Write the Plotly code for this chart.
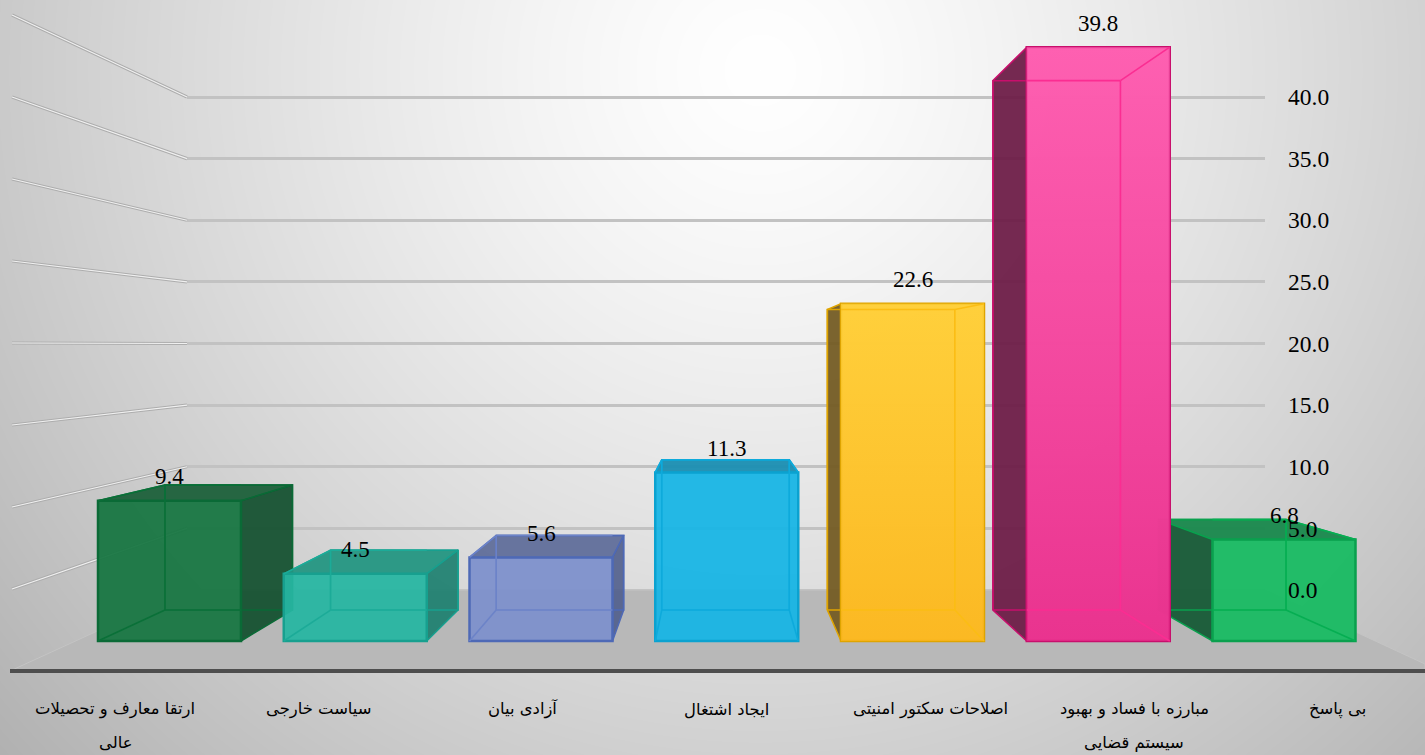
import base64, struct, zlib
import numpy as np
import plotly.graph_objects as go

# ---------- data ----------
category_line1 = ["ارتقا معارف و تحصیلات", "سیاست خارجی", "آزادی بیان", "ایجاد اشتغال",
                  "اصلاحات سکتور امنیتی", "مبارزه با فساد و بهبود", "بی پاسخ"]
category_line2 = ["عالی", "", "", "", "", "سیستم قضایی", ""]
values = [9.4, 4.5, 5.6, 11.3, 22.6, 39.8, 6.8]
value_labels = ["9.4", "4.5", "5.6", "11.3", "22.6", "39.8", "6.8"]
axis_ticks = [0, 5, 10, 15, 20, 25, 30, 35, 40]
axis_tick_labels = ["0.0", "5.0", "10.0", "15.0", "20.0", "25.0", "30.0", "35.0", "40.0"]

# ---------- styles ----------
front_col = ["rgba(24,118,66,.95)", "rgba(38,182,162,.94)", "rgba(125,144,204,.94)", "rgba(22,181,228,.94)",
             "rgba(255,196,46,.94)", "rgba(250,70,160,.94)", "rgba(24,186,98,.95)"]
gloss_col = [None, None, None, None,
             ("rgba(251,182,30,.8)", "rgba(255,210,60,.8)"),
             ("rgba(230,45,138,.8)", "rgba(255,100,180,.8)"),
             None]
edge_col = ["#0a6a36", "#17a08f", "#4e69b6", "#0ba2d0", "#dfa400", "#c80f6c", "#0aa04e"]
inner_col = ["#0a7038", "#1cab98", "#6c83c8", "#0eaadb", "#fbbd14", "#fb2d92", "#06ae52"]
side_col = ["rgba(18,80,46,.93)", "rgba(30,128,112,.93)", "rgba(80,94,140,.9)", "rgba(0,0,0,0)",
            "rgba(116,92,36,.95)", "rgba(110,30,72,.95)", "rgba(22,90,54,.95)"]
top_col = ["rgba(28,96,58,.95)", "rgba(36,150,130,.95)", "rgba(96,110,154,.95)", "rgba(26,142,178,.95)",
           "rgba(0,0,0,0)", "rgba(0,0,0,0)", "rgba(24,136,76,.95)"]
W, H = 1425, 755
FONT_NUM = "Liberation Serif"
FONT_FA = "DejaVu Sans"

# ---------- geometry helpers (pixel layout of the perspective box) ----------
FRONT_ZERO, FRONT_UNIT = 641.0, 14.92   # value scale on the bars' front plane
BACK_ZERO, BACK_UNIT = 590.0, 12.325    # value scale on the back wall
K, XA, YA = 0.8915, 77.6, 38.6          # front plane -> rear-of-bar plane
BAR_W, BAR_X0, BAR_STEP = 143.0, 169.5, 185.75


def front_v(py):
    return (FRONT_ZERO - py) / FRONT_UNIT


def rear_x(x):
    return XA + K * x


def rear_v(v):
    return front_v(YA + K * (FRONT_ZERO - v * FRONT_UNIT))


def wall_px(v):
    return BACK_ZERO - v * BACK_UNIT


def wall_front_px(v):
    return 671.0 - v * 16.4


centers = [BAR_X0 + i * BAR_STEP for i in range(len(values))]
horizon = rear_v(0) / (1 - K)

# ---------- background ----------
yy, xx = np.mgrid[0:H, 0:W]
d = np.sqrt((xx - 760.0) ** 2 + (yy - 70.0) ** 2) / 860
g = np.clip(255 - 62 * d ** 1.3, 0, 255).astype(np.uint8)
raw = b"".join(b"\x00" + g[r].tobytes() for r in range(H))


def chunk(t, b):
    return struct.pack(">I", len(b)) + t + b + struct.pack(">I", zlib.crc32(t + b) & 0xffffffff)


png = b"\x89PNG\r\n\x1a\n" + chunk(b"IHDR", struct.pack(">IIBBBBB", W, H, 8, 0, 0, 0, 0)) + \
    chunk(b"IDAT", zlib.compress(raw, 9)) + chunk(b"IEND", b"")
bg_src = "data:image/png;base64," + base64.b64encode(png).decode()

fig = go.Figure()

# grid subplot (main xy): the dummy trace keeps the axes alive
fig.add_trace(go.Scatter(x=[0, 1], y=[axis_ticks[0], axis_ticks[-1]], xaxis="x", yaxis="y", mode="lines",
                         line=dict(color="rgba(0,0,0,0)"), showlegend=False, hoverinfo="skip"))

# floor
fx = [10, 187, 1265, 1425, 1425, 10]
fy = [671, 590, 590, 664, 671, 671]
fig.add_trace(go.Scatter(x=fx, y=[front_v(p) for p in fy], xaxis="x2", yaxis="y2", mode="lines", fill="toself",
                         fillcolor="#b8b8b8", line=dict(color="#c4c4c4", width=1), showlegend=False, hoverinfo="skip"))

# side-wall grid lines
for t in axis_ticks:
    if t == 0:
        continue
    xs = [12, 187]
    ys = [front_v(wall_front_px(t)), front_v(wall_px(t))]
    fig.add_trace(go.Scatter(x=xs, y=ys, xaxis="x2", yaxis="y2", mode="lines",
                             line=dict(color="#adadad", width=3.2), showlegend=False, hoverinfo="skip"))
    fig.add_trace(go.Scatter(x=xs, y=ys, xaxis="x2", yaxis="y2", mode="lines",
                             line=dict(color="#f0f0f0", width=1.2), showlegend=False, hoverinfo="skip"))

# floor front rule
fig.add_trace(go.Scatter(x=[10, 1425], y=[front_v(671)] * 2, xaxis="x2", yaxis="y2", mode="lines",
                         line=dict(color="#4e4e4e", width=4), showlegend=False, hoverinfo="skip"))

# outer faces of each box
order = [0, 1, 2, 6, 5, 4, 3]
for i in order:
    v = values[i]
    xl, xr = centers[i] - BAR_W / 2, centers[i] + BAR_W / 2
    bl, br = rear_x(xl), rear_x(xr)
    vb, zb = rear_v(v), rear_v(0)
    # top
    if v < horizon:
        fig.add_trace(go.Scatter(x=[xl, bl, br, xr, xl], y=[v, vb, vb, v, v], xaxis="x2", yaxis="y2",
                                 mode="lines", fill="toself", fillcolor=top_col[i],
                                 line=dict(color=edge_col[i], width=1.5), showlegend=False, hoverinfo="skip"))
    # side that sticks out beyond the front rectangle
    if br > xr:
        fig.add_trace(go.Scatter(x=[xr, br, br, xr, xr], y=[v, vb, zb, 0, v], xaxis="x2", yaxis="y2",
                                 mode="lines", fill="toself", fillcolor=side_col[i],
                                 line=dict(color=edge_col[i], width=1.5), showlegend=False, hoverinfo="skip"))
    if bl < xl:
        fig.add_trace(go.Scatter(x=[xl, bl, bl, xl, xl], y=[v, vb, zb, 0, v], xaxis="x2", yaxis="y2",
                                 mode="lines", fill="toself", fillcolor=side_col[i],
                                 line=dict(color=edge_col[i], width=1.5), showlegend=False, hoverinfo="skip"))
    # rear rectangle, seen where it runs outside the front face
    fig.add_trace(go.Scatter(x=[bl, br, br, bl, bl], y=[zb, zb, vb, vb, zb], xaxis="x2", yaxis="y2", mode="lines",
                             line=dict(color=edge_col[i], width=1.5), showlegend=False, hoverinfo="skip"))

# front faces: real bars on an overlay of the same scale
fig.add_trace(go.Bar(x=centers, y=values, width=BAR_W, xaxis="x3", yaxis="y3",
                     marker=dict(color=front_col, line=dict(color=edge_col, width=2.5)),
                     showlegend=False, hoverinfo="skip"))

# gloss and inner (see-through) edges on top of the bars
for i in order:
    v = values[i]
    xl, xr = centers[i] - BAR_W / 2, centers[i] + BAR_W / 2
    bl, br = rear_x(xl), rear_x(xr)
    vb, zb = rear_v(v), rear_v(0)
    if gloss_col[i]:
        fig.add_trace(go.Scatter(x=[xl, xr, xr, xl, xl], y=[0, 0, v, v, 0], xaxis="x3", yaxis="y3", mode="none",
                                 fill="toself",
                                 fillgradient=dict(type="vertical",
                                                   colorscale=[[0, gloss_col[i][0]], [1, gloss_col[i][1]]]),
                                 showlegend=False, hoverinfo="skip"))
    il, ir = max(bl, xl), min(br, xr)
    segs = [([il, ir], [zb, zb]), ([il, ir], [vb, vb])]
    if bl >= xl:
        segs += [([bl, bl], [zb, vb]), ([xl, bl], [0, zb]), ([xl, bl], [v, vb])]
    if br <= xr:
        segs += [([br, br], [zb, vb]), ([xr, br], [0, zb]), ([xr, br], [v, vb])]
    for xs, ys in segs:
        fig.add_trace(go.Scatter(x=xs, y=ys, xaxis="x3", yaxis="y3", mode="lines",
                                 line=dict(color=inner_col[i], width=1.6), showlegend=False, hoverinfo="skip"))

# dummy trace for the tick-label axis
fig.add_trace(go.Scatter(x=[0, 1], y=[axis_ticks[0], axis_ticks[-1]], xaxis="x2", yaxis="y4", mode="lines",
                         line=dict(color="rgba(0,0,0,0)"), showlegend=False, hoverinfo="skip"))

# value labels
ann = []
for c, v, t in zip(centers, values, value_labels):
    ann.append(dict(x=c, y=v, xref="x3", yref="y3", text=t, showarrow=False, yshift=24, yanchor="middle",
                    xanchor="center", font=dict(family=FONT_NUM, size=23, color="#000000")))

# category labels
for i, (a, b) in enumerate(zip(category_line1, category_line2)):
    cx = (115 + i * 203.8) / W
    ann.append(dict(x=cx, y=1 - 709 / H, xref="paper", yref="paper", text=a, showarrow=False, yanchor="middle",
                    xanchor="center", font=dict(family=FONT_FA, size=16.4, color="#000000")))
    if b:
        ann.append(dict(x=cx, y=1 - 742 / H, xref="paper", yref="paper", text=b, showarrow=False, yanchor="middle",
                        xanchor="center", font=dict(family=FONT_FA, size=16.4, color="#000000")))

grid_range = [(BACK_ZERO - H) / BACK_UNIT, BACK_ZERO / BACK_UNIT]
front_range = [(FRONT_ZERO - H) / FRONT_UNIT, FRONT_ZERO / FRONT_UNIT]
hidden = dict(showgrid=False, zeroline=False, showticklabels=False, showline=False, ticks="")

fig.update_layout(
    width=W, height=H, autosize=False, margin=dict(l=0, r=0, t=0, b=0),
    paper_bgcolor="#d8d8d8", plot_bgcolor="rgba(0,0,0,0)", showlegend=False, hovermode=False,
    barmode="overlay",
    images=[dict(source=bg_src, xref="paper", yref="paper", x=0, y=1, sizex=1, sizey=1,
                 sizing="stretch", layer="below", xanchor="left", yanchor="top")],
    annotations=ann,
    xaxis=dict(domain=[187 / W, 1265 / W], range=[0, 1], **hidden),
    yaxis=dict(domain=[0, 1], range=grid_range, anchor="x", tickvals=axis_ticks, showgrid=True,
               gridcolor="#c2c2c2", gridwidth=3, zeroline=False, showticklabels=False, ticks="", showline=False),
    xaxis2=dict(domain=[0, 1], range=[0, W], anchor="y2", **hidden),
    yaxis2=dict(domain=[0, 1], range=front_range, anchor="x2", **hidden),
    xaxis3=dict(overlaying="x2", range=[0, W], anchor="y3", **hidden),
    yaxis3=dict(overlaying="y2", range=front_range, anchor="x3", **hidden),
    yaxis4=dict(overlaying="y2", range=grid_range, anchor="free", position=1287 / W, side="right",
                tickvals=axis_ticks, ticktext=axis_tick_labels, showgrid=False, zeroline=False, showline=False,
                ticks="", ticklabelposition="outside",
                tickfont=dict(family=FONT_NUM, size=23.5, color="#000000")),
)

fig.write_html("out.html", config=dict(displayModeBar=False),
               post_script="document.body.style.margin='0';document.documentElement.style.overflow='hidden';")
